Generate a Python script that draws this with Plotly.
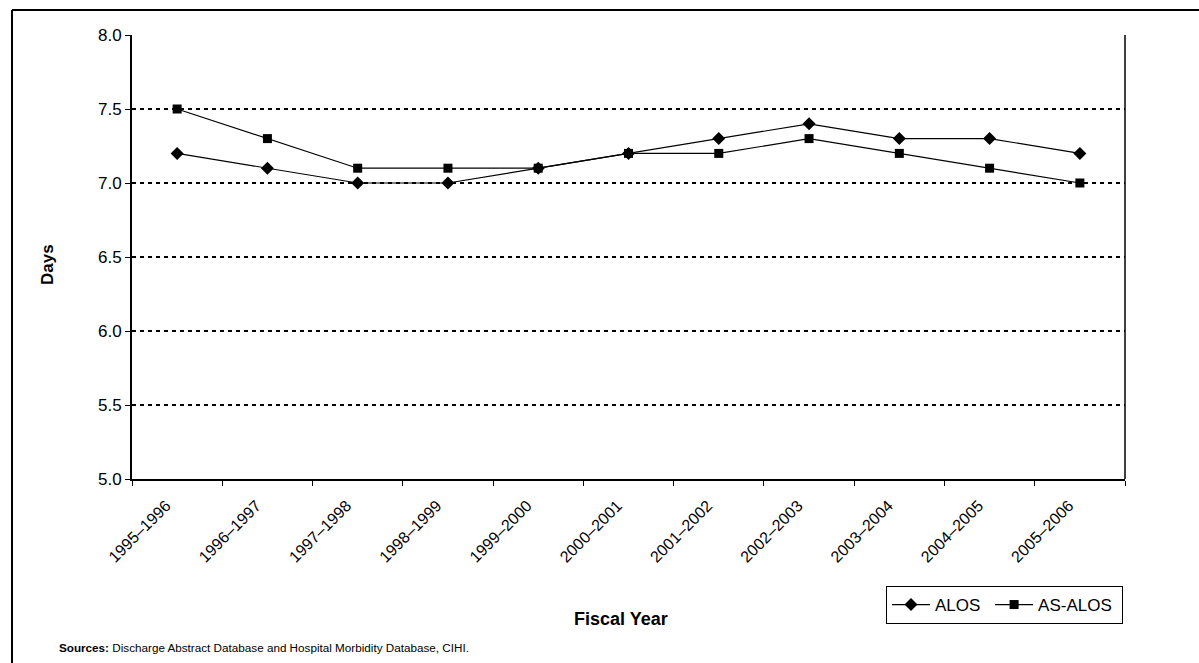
import plotly.graph_objects as go

# Fiscal years and average length of stay (days)
years = ["1995–1996", "1996–1997", "1997–1998", "1998–1999", "1999–2000",
         "2000–2001", "2001–2002", "2002–2003", "2003–2004", "2004–2005",
         "2005–2006"]
alos = [7.2, 7.1, 7.0, 7.0, 7.1, 7.2, 7.3, 7.4, 7.3, 7.3, 7.2]
as_alos = [7.5, 7.3, 7.1, 7.1, 7.1, 7.2, 7.2, 7.3, 7.2, 7.1, 7.0]
y_ticks = [5.0, 5.5, 6.0, 6.5, 7.0, 7.5, 8.0]

W, H = 1199, 663
L, R, T, B = 132, 1125, 35, 479
FONT = "Liberation Sans, Arial, Helvetica, sans-serif"


def px_x(p):
    return (p - L) / (R - L)


def px_y(p):
    return (B - p) / (B - T)


fig = go.Figure()
fig.add_trace(go.Scatter(
    x=years, y=alos, name="ALOS\u00a0", mode="lines+markers",
    line=dict(color="black", width=1.2),
    marker=dict(symbol="diamond", size=10, color="black"),
))
fig.add_trace(go.Scatter(
    x=years, y=as_alos, name="AS-ALOS\u00a0", mode="lines+markers",
    line=dict(color="black", width=1.2),
    marker=dict(symbol="square", size=9, color="black"),
))

fig.update_layout(
    width=W, height=H,
    margin=dict(l=L, r=W - R, t=T, b=H - B, autoexpand=False),
    plot_bgcolor="white", paper_bgcolor="white",
    font=dict(family=FONT, color="black", size=12),
    showlegend=True,
    legend=dict(
        orientation="h", xref="paper", yref="paper",
        x=px_x(886), y=px_y(586), xanchor="left", yanchor="top",
        bordercolor="black", borderwidth=1, bgcolor="white",
        font=dict(size=17, family=FONT), itemwidth=38,
        tracegroupgap=0,
    ),
    xaxis=dict(
        type="category", range=[-0.5, len(years) - 0.5],
        showline=True, linecolor="black", linewidth=2,
        ticks="outside", ticklen=5, tickcolor="black", tickwidth=1,
        tickson="boundaries", tickangle=-45, showgrid=False,
        tickfont=dict(size=16, family=FONT),
        ticklabelstandoff=9, ticklabelshift=-11,
    ),
    yaxis=dict(
        range=[5.0, 8.0], tickvals=y_ticks,
        ticktext=[f"{v:.1f}" for v in y_ticks],
        showline=True, linecolor="black", linewidth=2,
        ticks="outside", ticklen=5, tickcolor="black", tickwidth=1,
        showgrid=True, gridcolor="black", gridwidth=2, griddash="4px,4px",
        zeroline=False,
        tickfont=dict(size=17, family=FONT),
    ),
)

# Axis titles
fig.add_annotation(
    xref="paper", yref="paper", x=px_x(621), y=px_y(619),
    xanchor="center", yanchor="middle", showarrow=False,
    text="<b>Fiscal Year</b>", font=dict(size=18, family=FONT),
)
fig.add_annotation(
    xref="paper", yref="paper", x=px_x(47), y=px_y(265),
    xanchor="center", yanchor="middle", showarrow=False, textangle=-90,
    text="<b>Days</b>", font=dict(size=17, family=FONT),
)

# Right edge of the plotting area
fig.add_shape(type="line", xref="paper", yref="paper",
              x0=1, x1=1, y0=0, y1=1, line=dict(color="black", width=1.5))

# Outer frame around the whole figure
fig.add_shape(type="line", xref="paper", yref="paper",
              x0=px_x(12), x1=px_x(1205), y0=px_y(10), y1=px_y(10),
              line=dict(color="black", width=2))
fig.add_shape(type="line", xref="paper", yref="paper",
              x0=px_x(12), x1=px_x(12), y0=px_y(10), y1=px_y(670),
              line=dict(color="black", width=2))

fig.add_annotation(
    xref="paper", yref="paper", x=px_x(57), y=px_y(647),
    xanchor="left", yanchor="middle", showarrow=False,
    text="<b>Sources:</b> Discharge Abstract Database and Hospital Morbidity Database, CIHI.",
    font=dict(size=11.7, family=FONT),
)

fig.write_html("out.html")
